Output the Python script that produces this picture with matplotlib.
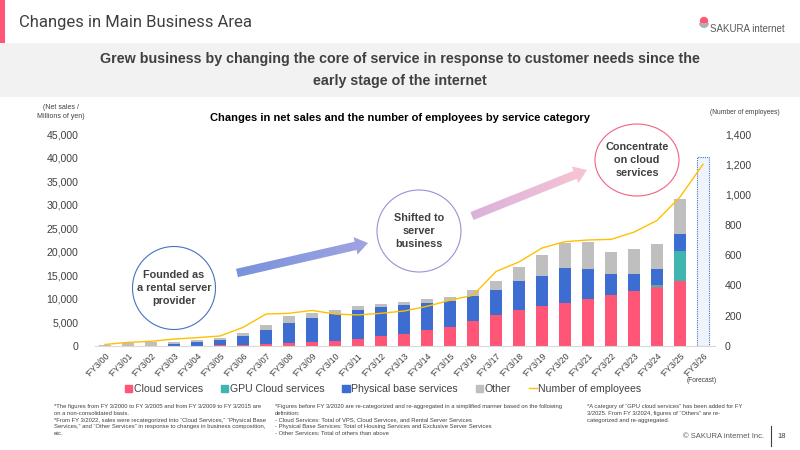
import numpy as np
import matplotlib
matplotlib.use("Agg")
import matplotlib.pyplot as plt
from matplotlib.patches import Rectangle, Ellipse, FancyArrow, Patch, Wedge, Circle
from matplotlib.lines import Line2D
from matplotlib.colors import LinearSegmentedColormap

plt.rcParams['font.family'] = ['Liberation Sans', 'DejaVu Sans']

# ---- data (millions of yen / headcount) ----
years = ["'FY3/00", "'FY3/01", "'FY3/02", "'FY3/03", "'FY3/04", "'FY3/05", "'FY3/06",
         "'FY3/07", "'FY3/08", "'FY3/09", "'FY3/10", "'FY3/11", "'FY3/12", "'FY3/13",
         "'FY3/14", "'FY3/15", "'FY3/16", "'FY3/17", "'FY3/18", "'FY3/19", "'FY3/20",
         "'FY3/21", "'FY3/22", "'FY3/23", "'FY3/24", "'FY3/25", "'FY3/26"]
cloud = [0, 0, 0, 0, 0, 210, 280, 500, 700, 920, 1130, 1490, 2050, 2620, 3470,
         4110, 5380, 6510, 7650, 8500, 9060, 9910, 10830, 11750, 12600, 13730, 0]
gpu_cloud = [0, 0, 0, 0, 0, 0, 0, 0, 0, 0, 0, 0, 0, 0, 0,
             0, 0, 0, 0, 0, 0, 0, 0, 0, 280, 6440, 0]
physical = [0, 0, 0, 500, 780, 1130, 1770, 2830, 4100, 4960, 5590, 6090, 6160, 6090, 5660,
            5380, 5240, 5380, 6160, 6440, 7430, 6440, 4460, 3540, 3470, 3610, 0]
other = [120, 600, 750, 400, 550, 460, 650, 1170, 1600, 1220, 980, 820, 790, 640, 770,
         920, 1270, 1910, 3040, 4390, 5310, 5660, 4600, 5240, 5380, 7360, 0]
employees = [10, 24, 31, 46, 55, 66, 123, 211, 216, 235, 211, 205, 216, 231, 262,
             302, 335, 492, 555, 647, 689, 700, 704, 752, 829, 984, 1200]
forecast_box = 40100   # placeholder for FY3/26 (forecast)

left_ticks = [0, 5000, 10000, 15000, 20000, 25000, 30000, 35000, 40000, 45000]
right_ticks = [0, 200, 400, 600, 800, 1000, 1200, 1400]

C_CLOUD = "#ff5577"
C_GPU = "#40b5b0"
C_PHYS = "#3d6dd0"
C_OTHER = "#bfbfbf"
C_EMP = "#ffc000"
TXT = "#404040"

fig = plt.figure(figsize=(8, 4.5), dpi=100)

# ---- background / decorations in pixel coords ----
bg = fig.add_axes([0, 0, 1, 1], zorder=0)
bg.set_xlim(0, 800)
bg.set_ylim(450, 0)
bg.axis("off")

bg.add_patch(Rectangle((0, 0), 5, 43, color="#ff5577", lw=0))
bg.add_patch(Rectangle((0, 43), 800, 54, color="#f2f2f2", lw=0))
bg.text(19, 23, "Changes in Main Business Area", fontsize=12, color=TXT,
        family=["Roboto", "DejaVu Sans"], va="center", ha="left")
bg.add_patch(Circle((704, 21), 4.2, color="#ff5577", lw=0))
bg.add_patch(Wedge((704, 23), 5, 0, 180, color="#b0b0b0", lw=0))
bg.text(710, 29, "SAKURA internet", fontsize=7, color="#595959", va="center", ha="left")

bg.text(400, 59, "Grew business by changing the core of service in response to customer needs since the",
        fontsize=10.3, fontweight="bold", color=TXT, ha="center", va="center")
bg.text(400, 81, "early stage of the internet",
        fontsize=10.3, fontweight="bold", color=TXT, ha="center", va="center")

bg.text(400, 118, "Changes in net sales and the number of employees by service category",
        fontsize=8, fontweight="bold", color="black", ha="center", va="center")
bg.text(61, 112, "(Net sales /\nMillions of yen)", fontsize=5, color=TXT,
        ha="center", va="center", linespacing=1.3)
bg.text(745, 113, "(Number of employees)", fontsize=4.8, color=TXT, ha="center", va="center")
bg.text(702, 381, "(Forecast)", fontsize=4.8, color=TXT, ha="center", va="center")


def grad_arrow(x0, y0, x1, y1, c0, c1, w):
    arr = FancyArrow(x0, y0, x1 - x0, y1 - y0, width=w, head_width=w * 2.1,
                     head_length=w * 1.5, length_includes_head=True,
                     facecolor="none", edgecolor="none")
    bg.add_patch(arr)
    cmap = LinearSegmentedColormap.from_list("g", [c0, c1])
    grad = np.linspace(0, 1, 256).reshape(1, -1)
    im = bg.imshow(grad, cmap=cmap, aspect="auto", zorder=2,
                   extent=(min(x0, x1) - 12, max(x0, x1) + 12, max(y0, y1) + 14, min(y0, y1) - 14))
    im.set_clip_path(arr)


grad_arrow(237, 273, 368, 243, "#7690dc", "#a4a6e0", 8.5)
grad_arrow(472, 216, 587, 170, "#d6b0dc", "#fcc6d2", 8.5)

circles = [((174, 288), 83, 83, "#4472c4", "Founded as\na rental server\nprovider"),
           ((419, 231), 84, 82, "#9b8fd8", "Shifted to\nserver\nbusiness"),
           ((637, 160), 84, 72, "#f06383", "Concentrate\non cloud\nservices")]
for (cx, cy), w, h, ec, label in circles:
    bg.add_patch(Ellipse((cx, cy), w, h, facecolor="white", edgecolor=ec, lw=0.8, zorder=3))
    bg.text(cx, cy, label, fontsize=7.8, fontweight="bold", color=TXT,
            ha="center", va="center", linespacing=1.35, zorder=4)

# ---- footnotes ----
notes = [
    (54, "*The figures from FY 3/2000 to FY 3/2005 and from FY 3/2009 to FY 3/2015 are\n"
         "on a non-consolidated basis.\n"
         "*From FY 3/2022, sales were recategorized into \u201cCloud Services,\u201d \u201cPhysical Base\n"
         "Services,\u201d and \u201cOther Services\u201d in response to changes in business composition,\n"
         "etc."),
    (275, "*Figures before FY 3/2020 are re-categorized and re-aggregated in a simplified manner based on the following\n"
          "definition:\n"
          "- Cloud Services: Total of VPS, Cloud Services, and Rental Server Services\n"
          "- Physical Base Services: Total of Housing Services and Exclusive Server Services\n"
          "- Other Services: Total of others than above"),
    (587, "*A category of \u201cGPU cloud services\u201d has been added for FY\n"
          "3/2025. From FY 3/2024, figures of \u201cOthers\u201d are re-\n"
          "categorized and re-aggregated."),
]
for x, s in notes:
    bg.text(x, 404, s, fontsize=4.2, color=TXT, ha="left", va="top", linespacing=1.45)
bg.text(764, 436, "\u00a9 SAKURA internet Inc.", fontsize=5.5, color="#595959", ha="right", va="center")
bg.plot([771, 771], [426, 446], color="#404040", lw=0.8)
bg.text(782, 436, "18", fontsize=5.5, color=TXT, ha="center", va="center")

# ---- main chart ----
ax = fig.add_axes([95 / 800, 104 / 450, 620 / 800, 212 / 450], zorder=1)
ax.patch.set_alpha(0)
x = np.arange(len(years))
bw = 0.52
n = len(years) - 1
b1 = np.array(cloud[:n])
b2 = b1 + np.array(gpu_cloud[:n])
b3 = b2 + np.array(physical[:n])
ax.bar(x[:n], cloud[:n], bw, color=C_CLOUD, zorder=2)
ax.bar(x[:n], gpu_cloud[:n], bw, bottom=b1, color=C_GPU, zorder=2)
ax.bar(x[:n], physical[:n], bw, bottom=b2, color=C_PHYS, zorder=2)
ax.bar(x[:n], other[:n], bw, bottom=b3, color=C_OTHER, zorder=2)
ax.bar(x[n], forecast_box, bw, facecolor="#eef3fc", edgecolor="#4472c4",
       linestyle=(0, (1, 1)), lw=0.8, zorder=2)

ax.set_xlim(-10 / 23, 26 + 12 / 23)
ax.set_ylim(0, 45000)
ax.set_yticks(left_ticks)
ax.set_yticklabels([f"{v:,}" for v in left_ticks])
ax.set_xticks(x)
ax.set_xticklabels(years, rotation=45, ha="right", rotation_mode="anchor")
ax.tick_params(axis="y", length=0, pad=12, labelsize=7.6, labelcolor=TXT)
ax.tick_params(axis="x", length=0, pad=4, labelsize=6.2, labelcolor=TXT)
for s in ["top", "right", "left"]:
    ax.spines[s].set_visible(False)
ax.spines["bottom"].set_color("#d9d9d9")

ax2 = ax.twinx()
ax2.plot(x, employees, color=C_EMP, lw=1, zorder=5)
ax2.set_ylim(0, 1400)
ax2.set_yticks(right_ticks)
ax2.set_yticklabels([f"{v:,}" for v in right_ticks])
ax2.tick_params(axis="y", length=0, pad=7, labelsize=7.6, labelcolor=TXT)
for s in ["top", "right", "left", "bottom"]:
    ax2.spines[s].set_visible(False)

handles = [Patch(color=C_CLOUD), Patch(color=C_GPU), Patch(color=C_PHYS),
           Patch(color=C_OTHER), Line2D([], [], color=C_EMP, lw=1)]
labels = ["Cloud services", "GPU Cloud services", "Physical base services", "Other",
          "Number of employees"]
fig.legend(handles, labels, loc="center", bbox_to_anchor=(383 / 800, 1 - 389 / 450),
           ncol=5, frameon=False, fontsize=7.6, handlelength=0.7, handleheight=0.7,
           handletextpad=0.15, columnspacing=1.7, labelcolor=TXT)

fig.savefig("out.png", dpi=100)
